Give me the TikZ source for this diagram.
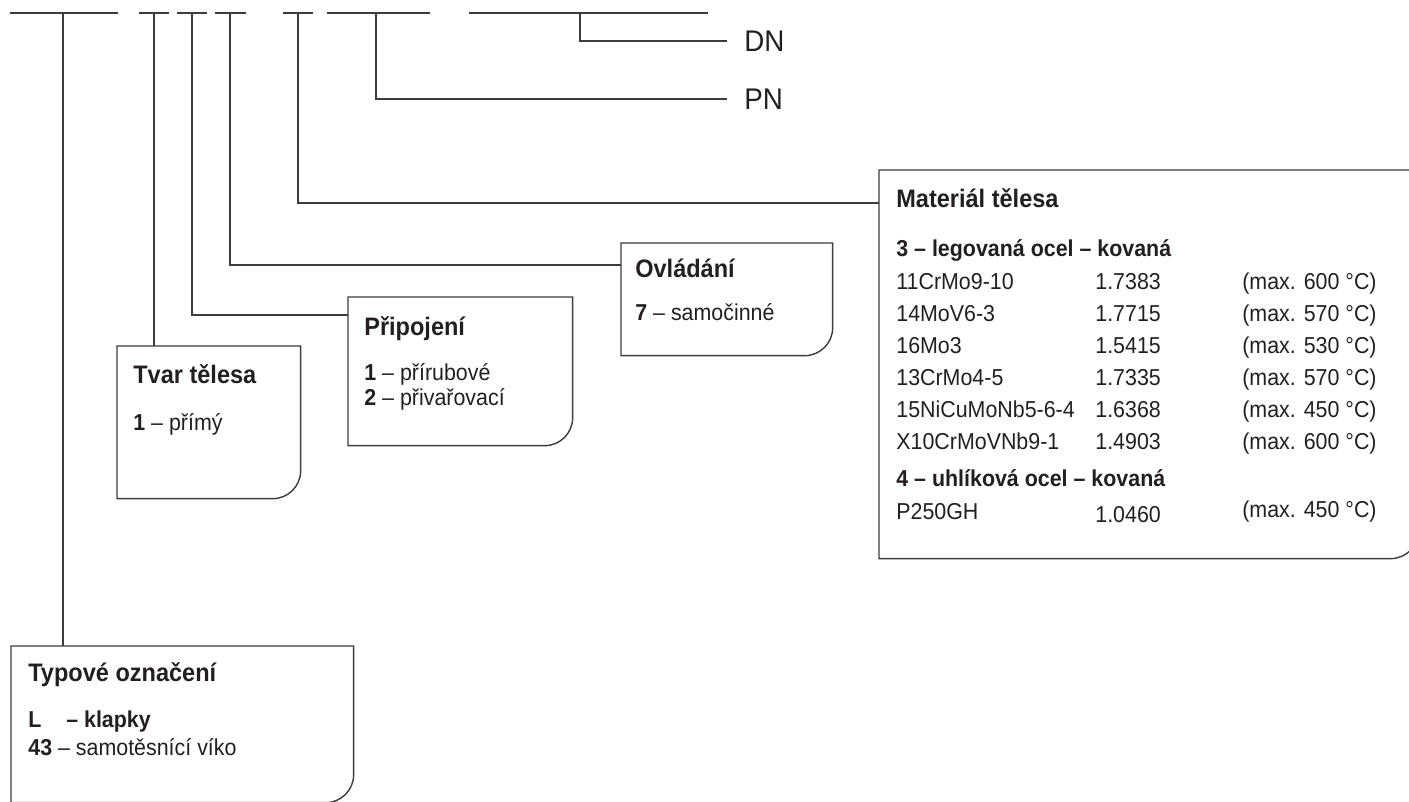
\documentclass[tikz,border=0pt]{standalone}
\usepackage{fontspec}
\usepackage{xcolor}
\usepackage{tikz}
\usetikzlibrary{calc}
\setmainfont[FakeStretch=0.93]{Liberation Sans}
\definecolor{inkblack}{RGB}{35,31,32}
\definecolor{linegray}{RGB}{60,60,60}

% frame with one rounded corner (bottom right)
\newcommand{\panelframe}[1]{%
  \draw[frame] (#1.north west) -- (#1.north east)
    -- ([yshift=0.56cm]#1.south east) arc[start angle=0, end angle=-90, radius=0.56cm]
    -- (#1.south west) -- cycle;}

\begin{document}
\begin{tikzpicture}[
        x=0.02cm, y=-0.02cm,
        frame/.style={draw=linegray, line width=0.8pt},
        conn/.style={draw=linegray, line width=0.8pt},
        panel/.style={rectangle, anchor=north west, inner sep=0pt, draw=none},
        head/.style={anchor=base west, inner sep=0pt, text=inkblack,
                     font=\fontsize{14.4}{17}\selectfont\bfseries},
        txt/.style={anchor=base west, inner sep=0pt, text=inkblack,
                    font=\fontsize{13.1}{15.6}\selectfont},
        subhead/.style={txt, font=\fontsize{13.1}{15.6}\selectfont\bfseries},
        tag/.style={anchor=west, inner xsep=0.34cm, inner ysep=0pt, text=inkblack,
                    font=\fontsize{17}{20}\selectfont}
    ]
        \useasboundingbox (0,0) rectangle (1409,801);
        \clip (0,0) rectangle (1409,801);

        % Draw the code slots on the top line
        \foreach \a/\b in {10/118, 139/169, 177/207, 215/246, 283/313, 327/430, 469/708}
            \draw[conn] (\a,13) -- (\b,13);
        \coordinate (tTyp) at (63,13);
        \coordinate (tTvar) at (154,13);
        \coordinate (tPri) at (192,13);
        \coordinate (tOvl) at (230,13);
        \coordinate (tMat) at (298,13);
        \coordinate (tPN) at (376,13);
        \coordinate (tDN) at (580,13);

        % Draw the panels
        \node[panel, minimum width=3.66cm, minimum height=3.04cm] (tvar) at (117,346) {};
        \node[panel, minimum width=4.48cm, minimum height=2.96cm] (pripoj) at (348,297) {};
        \node[panel, minimum width=4.22cm, minimum height=2.24cm] (ovlad) at (621,243) {};
        \node[panel, minimum width=10.78cm, minimum height=7.76cm] (material) at (879,170) {};
        \node[panel, minimum width=6.84cm, minimum height=3.12cm] (typ) at (11,646) {};
        \panelframe{tvar}
        \panelframe{pripoj}
        \panelframe{ovlad}
        \panelframe{material}
        \panelframe{typ}

        % Add DN and PN labels
        \node[tag] (dn) at (727,41) {DN};
        \node[tag] (pn) at (727,99) {PN};

        % Add connectors from the slots
        \draw[conn] (tTyp) -- (tTyp |- typ.north);
        \draw[conn] (tTvar) -- (tTvar |- tvar.north);
        \draw[conn] (tPri) |- ($(pripoj.north west)+(0,18)$);
        \draw[conn] (tOvl) |- ($(ovlad.north west)+(0,22)$);
        \draw[conn] (tMat) |- ($(material.north west)+(0,33)$);
        \draw[conn] (tPN) |- (pn.west);
        \draw[conn] (tDN) |- (dn.west);

        % Add panel texts
        \node[head] (tvarT) at (133,383) {Tvar tělesa};
        \node[txt] (tvar1) at (133,430) {\textbf{1} – přímý};

        \node[head] (pripojT) at (364,335) {Připojení};
        \node[txt] (pripoj1) at (364,380) {\textbf{1} – přírubové};
        \node[txt] (pripoj2) at (364,405) {\textbf{2} – přivařovací};

        \node[head] (ovladT) at (635,277) {Ovládání};
        \node[txt] (ovlad7) at (635,320) {\textbf{7} – samočinné};

        \node[head] (materialT) at (896,207) {Materiál tělesa};
        \node[subhead] (alloy) at (896,256) {3 – legovaná ocel – kovaná};
        \foreach \grade/\wnum/\tmax [count=\i from 0] in {11CrMo9-10/1.7383/600,
                14MoV6-3/1.7715/570, 16Mo3/1.5415/530, 13CrMo4-5/1.7335/570,
                15NiCuMoNb5-6-4/1.6368/450, X10CrMoVNb9-1/1.4903/600} {
            \node[txt] (grade\i) at (896,{289+32*\i}) {\grade};
            \node[txt] (wnum\i) at (1095,{289+32*\i}) {\wnum};
            \node[txt] (tmax\i) at (1242,{289+32*\i}) {(max. \tmax~°C)};
        }
        \node[subhead] (carbon) at (896,486) {4 – uhlíková ocel – kovaná};
        \node[txt] (grade6) at (896,519) {P250GH};
        \node[txt] (wnum6) at (1095,522) {1.0460};
        \node[txt] (tmax6) at (1242,517) {(max. 450~°C)};

        \node[head] (typT) at (28,681) {Typové označení};
        \node[subhead] (typL) at (28,727) {L\hspace{1.08em}– klapky};
        \node[txt] (typ43) at (28,755) {\textbf{43} – samotěsnící víko};

    \end{tikzpicture}
\end{document}
